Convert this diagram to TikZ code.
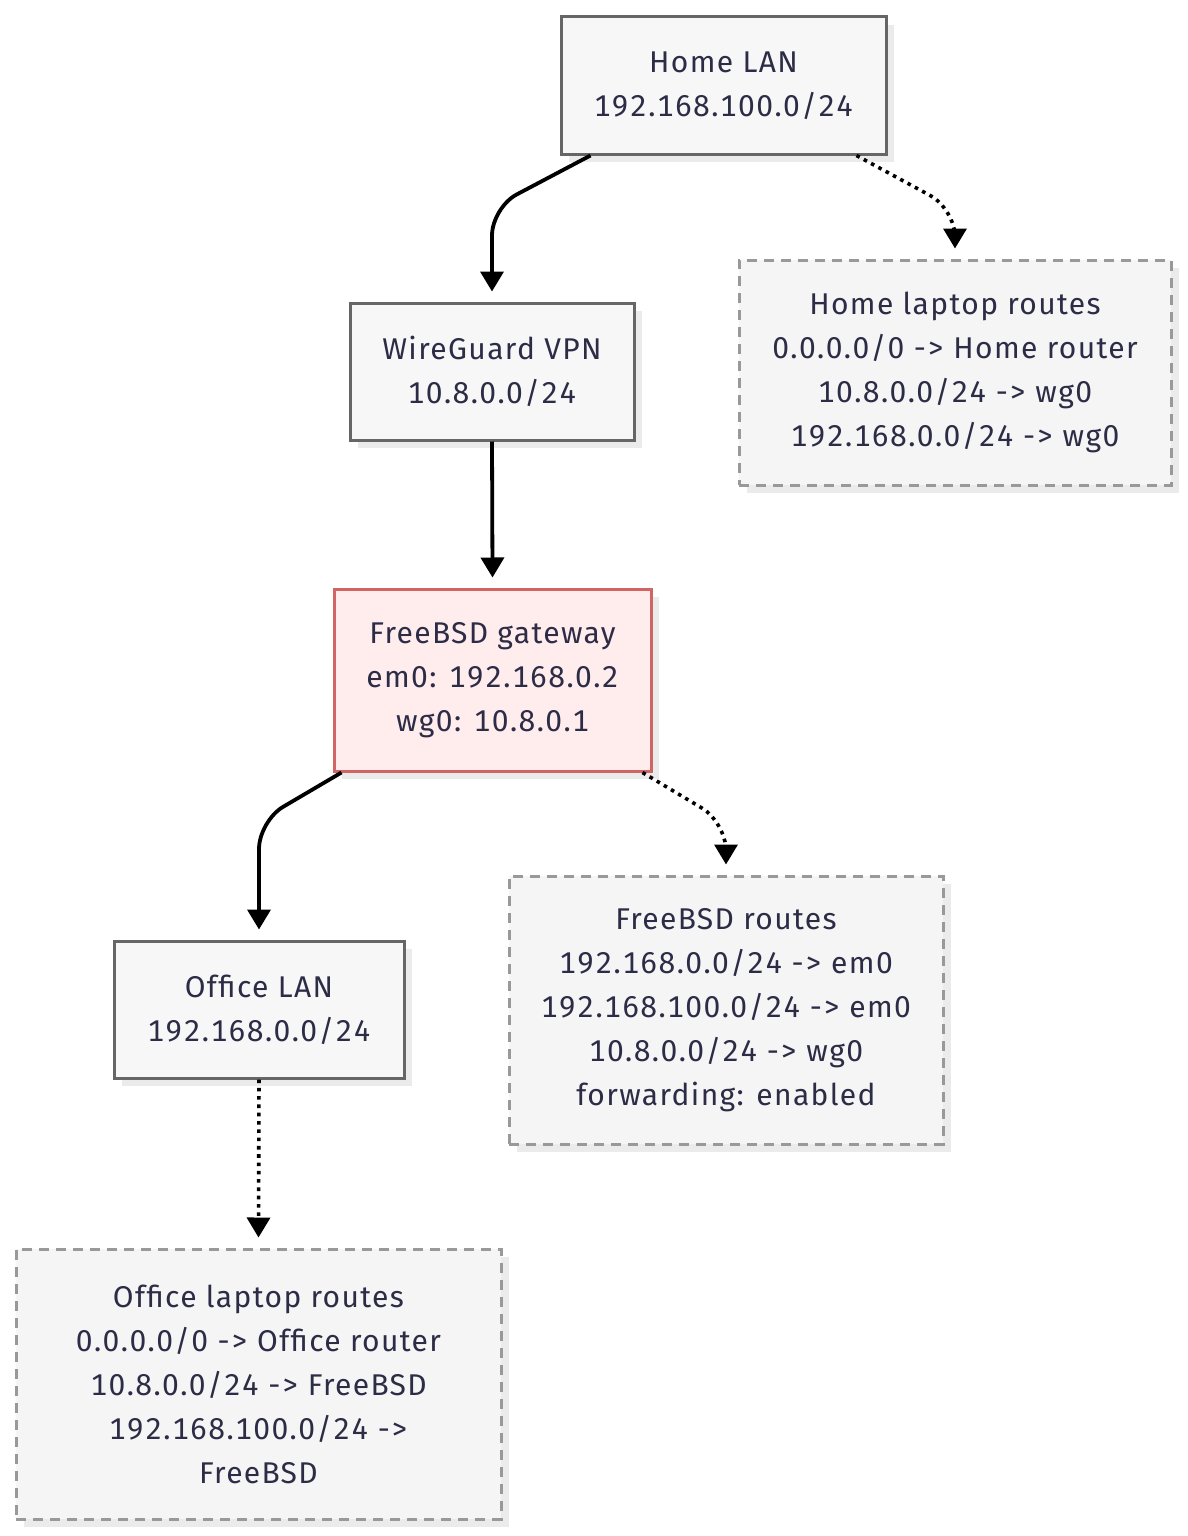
\documentclass[tikz,border=0pt]{standalone}
\usepackage{fontspec}
\setmainfont[Numbers=Monospaced,LetterSpace=4.6]{Fira Sans}
\usetikzlibrary{arrows.meta,shadows,calc}
\definecolor{txt}{HTML}{2C2C46}
\definecolor{boxfill}{HTML}{F7F7F7}
\definecolor{boxdraw}{HTML}{666666}
\definecolor{notefill}{HTML}{F5F5F5}
\definecolor{notedraw}{HTML}{999999}
\definecolor{redfill}{HTML}{FFECEC}
\definecolor{reddraw}{HTML}{D26464}
\definecolor{shadowc}{HTML}{EBEBEB}
\begin{document}
\begin{tikzpicture}[x=1pt,y=-1pt,
  base/.style={rectangle, inner sep=0pt, align=center, text=txt,
    font=\fontsize{30}{44}\selectfont, line width=3pt,
    drop shadow={shadow xshift=8pt,shadow yshift=-8pt,fill=shadowc,opacity=1}},
  netbox/.style={base, draw=boxdraw, fill=boxfill},
  gwbox/.style={base, draw=reddraw, fill=redfill},
  notebox/.style={base, draw=notedraw, fill=notefill, dash pattern=on 10pt off 7pt},
  tipA/.style={-{Triangle[length=20pt,width=23pt]}},
  solidconn/.style={tipA, line width=3.8pt, black, rounded corners=28pt},
  dotconn/.style={tipA, line width=3.6pt, black, dash pattern=on 3.6pt off 4.7pt, rounded corners=28pt}
]
\useasboundingbox (0,0) rectangle (1188,1536);
\fill[white] (0,0) rectangle (1188,1536);

\node[netbox, minimum width=325pt, minimum height=137pt] (home) at (723.5,85.5) {Home LAN\\192.168.100.0/24};
\node[netbox, minimum width=284pt, minimum height=137pt] (wg) at (492,371.5) {WireGuard VPN\\10.8.0.0/24};
\node[notebox, minimum width=432pt, minimum height=225pt] (homert) at (955,372.5) {Home laptop routes\\0.0.0.0/0 -> Home router\\10.8.0.0/24 -> wg0\\192.168.0.0/24 -> wg0};
\node[gwbox, minimum width=317pt, minimum height=182pt] (gw) at (492.5,680) {FreeBSD gateway\\em0: 192.168.0.2\\wg0: 10.8.0.1};
\node[netbox, minimum width=290pt, minimum height=137pt] (office) at (259,1009.5) {Office LAN\\192.168.0.0/24};
\node[notebox, minimum width=434pt, minimum height=268pt] (bsdrt) at (726,1010) {FreeBSD routes\\192.168.0.0/24 -> em0\\192.168.100.0/24 -> em0\\10.8.0.0/24 -> wg0\\forwarding: enabled};
\node[notebox, minimum width=485pt, minimum height=270pt] (offrt) at (258.5,1384) {Office laptop routes\\0.0.0.0/0 -> Office router\\10.8.0.0/24 -> FreeBSD\\192.168.100.0/24 ->\\FreeBSD};

% connector helper points
\coordinate (s1) at ([xshift=31pt]home.south west);
\coordinate (c1) at (492,207.5);
\coordinate (s2) at ([xshift=-31pt]home.south east);
\coordinate (c2) at (955,209);
\coordinate (s4) at ([xshift=9pt]gw.south west);
\coordinate (c4) at (259,821);
\coordinate (s5) at ([xshift=-10pt]gw.south east);
\coordinate (c5) at (726,822.5);

\draw[solidconn] (s1) -- (c1) -- ([yshift=10pt]wg.north);
\draw[dotconn] (s2) -- (c2) -- ([yshift=10pt]homert.north);
\draw[solidconn] (wg.south) -- ([yshift=10pt]gw.north);
\draw[solidconn] (s4) -- (c4) -- ([yshift=10pt]office.north);
\draw[dotconn] (s5) -- (c5) -- ([yshift=10pt]bsdrt.north);
\draw[dotconn] (office.south) -- ([yshift=10pt]offrt.north);
\end{tikzpicture}
\end{document}
